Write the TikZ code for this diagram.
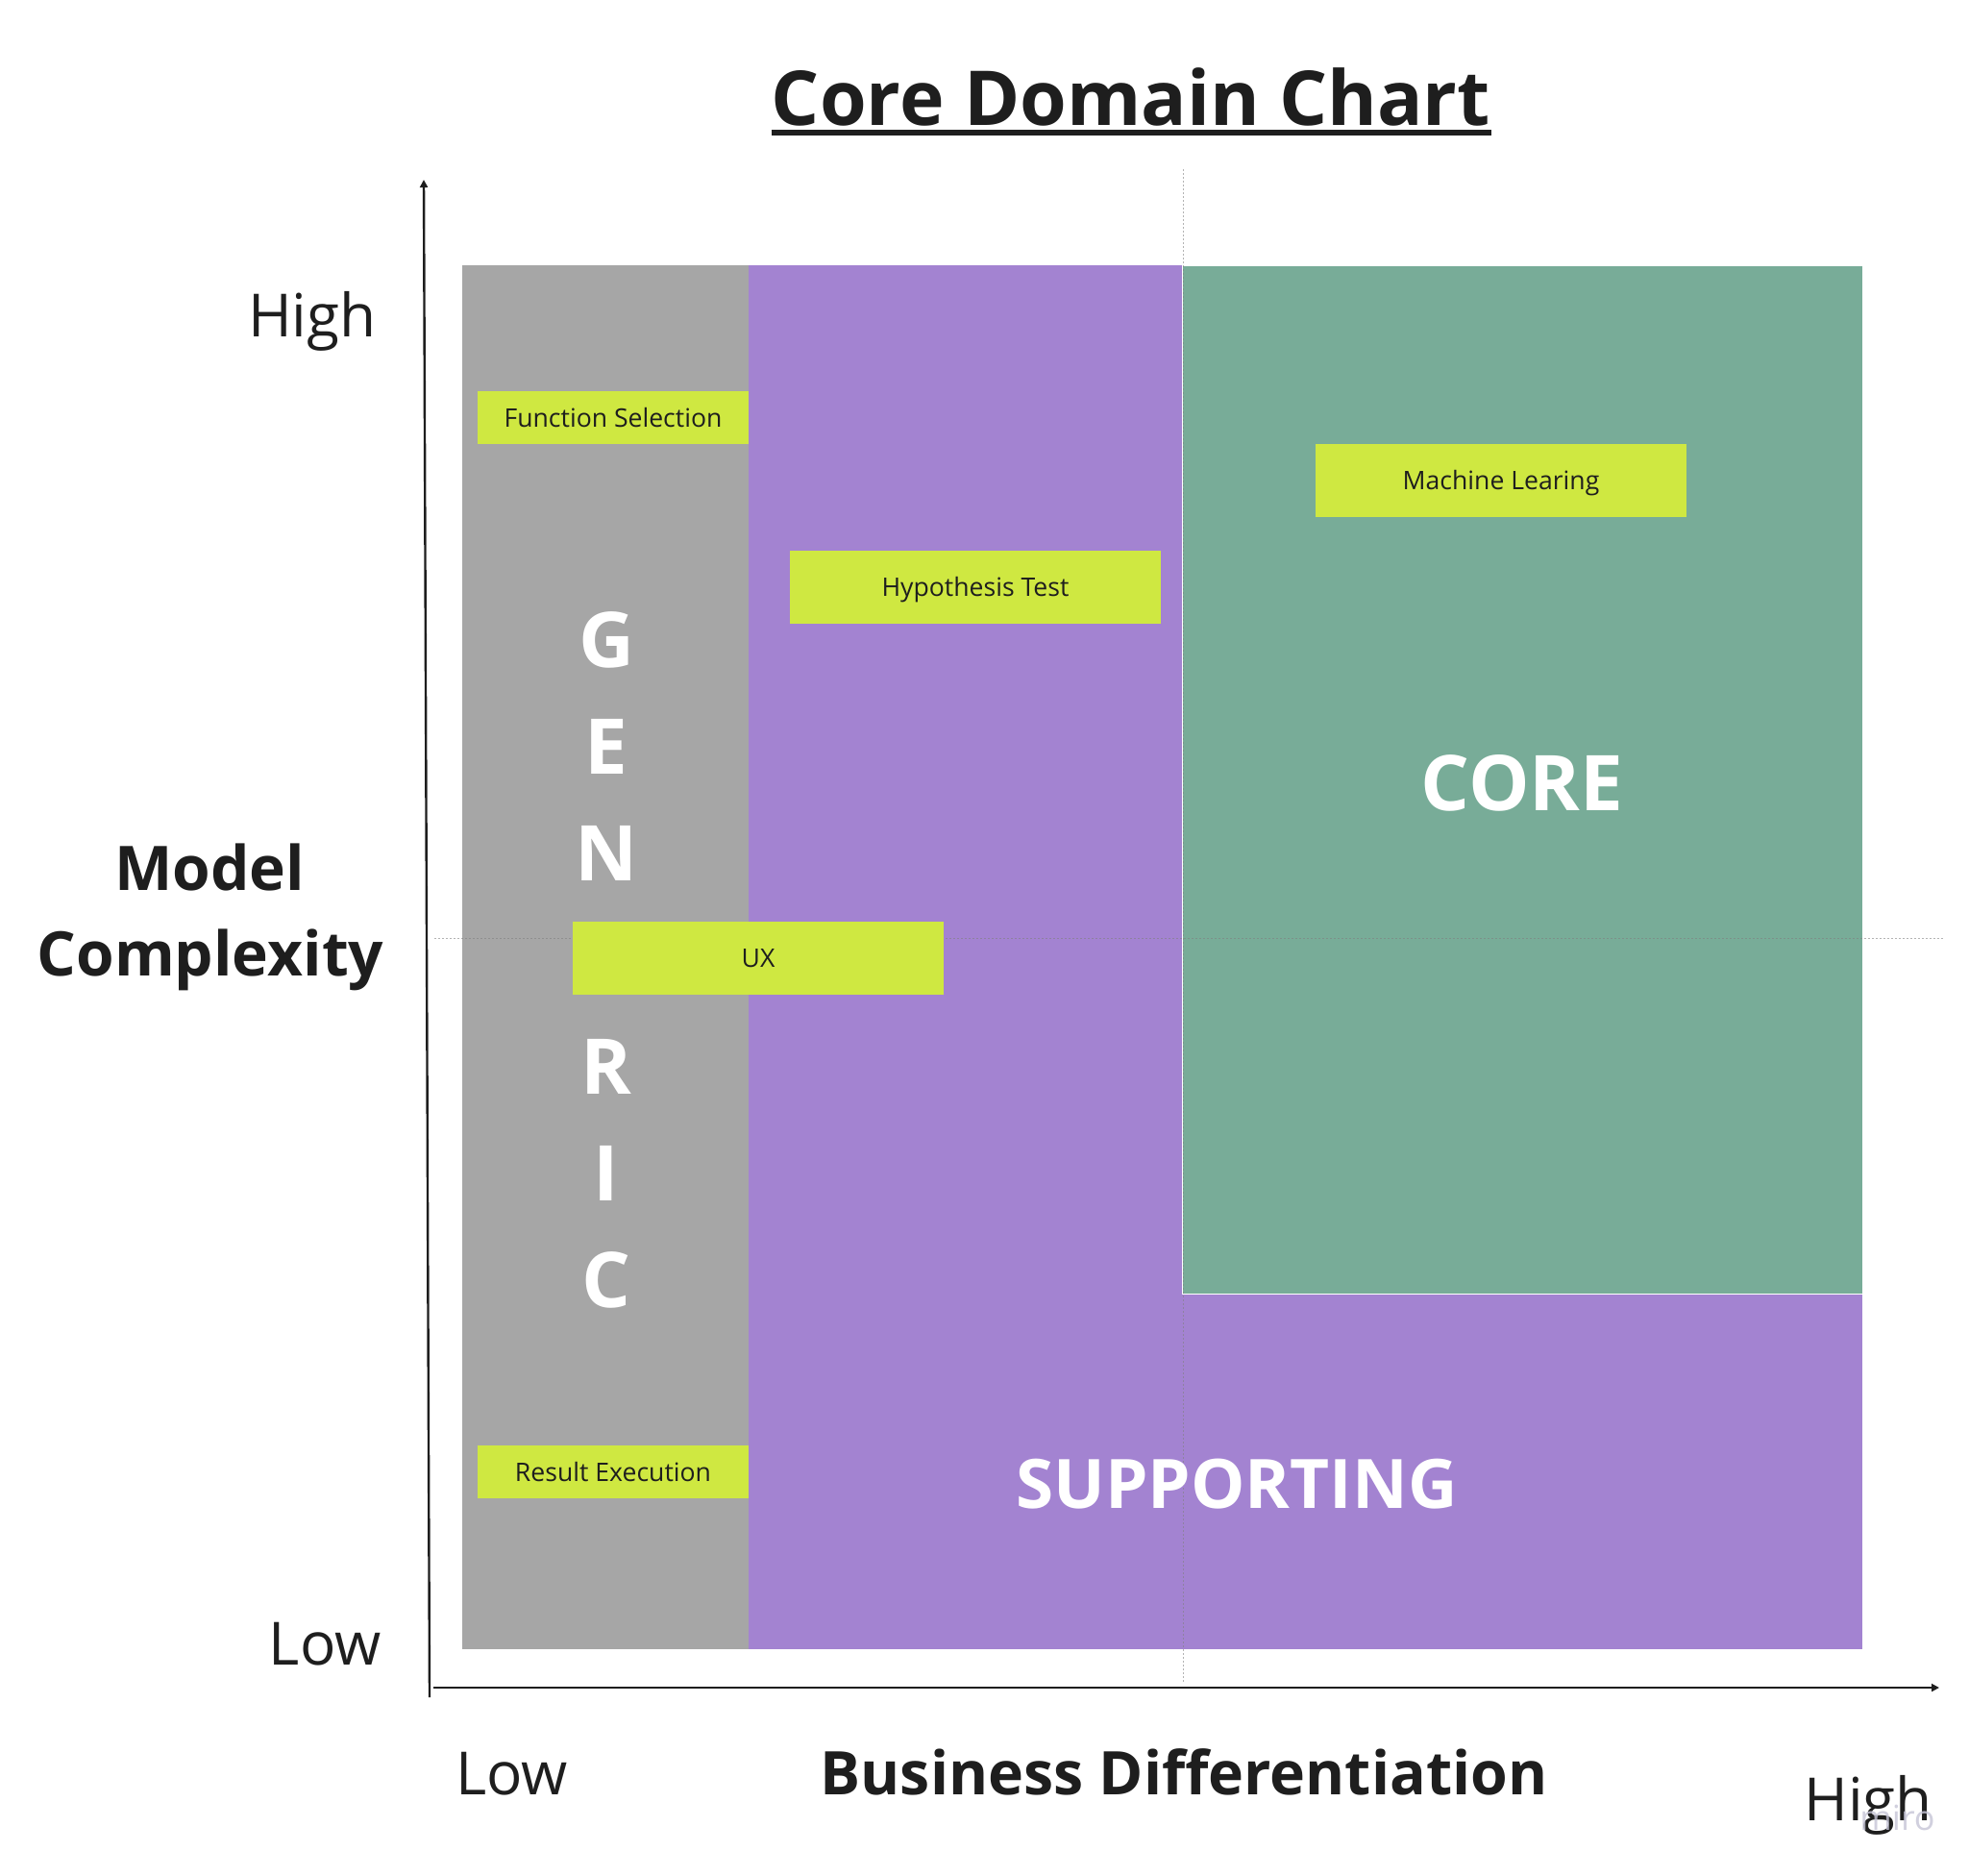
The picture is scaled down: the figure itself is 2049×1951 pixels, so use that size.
\documentclass[tikz,border=0pt]{standalone}
\usepackage{fontspec}
\setmainfont{Open Sans}
\usetikzlibrary{arrows.meta}

\definecolor{genericgray}{HTML}{A6A6A6}
\definecolor{supportpurple}{HTML}{A383D1}
\definecolor{coregreen}{HTML}{78AC98}
\definecolor{taglime}{HTML}{CFE841}
\definecolor{ink}{HTML}{1E1E1E}
\definecolor{mirogray}{HTML}{C5C4D6}

\tikzset{
  tag/.style={fill=taglime, text=ink, inner sep=0pt, text height=9.5pt, text depth=0pt,
    font=\fontsize{13.3pt}{16pt}\selectfont},
  smalltag/.style={tag, minimum width=141pt, minimum height=27.5pt},
  bigtag/.style={tag, minimum width=193pt, minimum height=38pt},
  axislabel/.style={text=ink, inner sep=0pt, font=\fontsize{31pt}{37pt}\selectfont},
  axistitle/.style={text=ink, inner sep=0pt, font=\fontsize{32pt}{38pt}\selectfont\bfseries},
  zone/.style={text=white, inner sep=0pt, font=\fontsize{40pt}{48pt}\selectfont\bfseries},
  guide/.style={gray, opacity=0.6, line width=0.5pt, dash pattern=on 1pt off 1pt},
  axis/.style={ink, line width=1.2pt, -{Triangle[length=4pt,width=4pt]}}
}

\begin{document}
\begin{tikzpicture}[x=0.5pt, y=-0.5pt]
\useasboundingbox (0,0) rectangle (2049,1951);

% zones
\fill[genericgray] (481,276) rectangle (779,1716);
\fill[supportpurple] (779,276) rectangle (1938,1716);
\filldraw[fill=coregreen, draw=white, line width=0.5pt] (1230,276) rectangle (1938,1346);

% guides
\draw[guide] (1231,176) -- (1231,1751);
\draw[guide] (452,976) -- (2024,976);

% axes
\coordinate (ybot) at (447,1766);
\coordinate (ytop) at (441,187);
\coordinate (xleft) at (451,1756);
\coordinate (xright) at (2018,1756);
\draw[axis] (ybot) -- (ytop);
\draw[axis] (xleft) -- (xright);

% zone names
\foreach \l [count=\i from 0] in {G,E,N,E,R,I,C}
  \node[zone, anchor=base] (generic\i) at (631, {694+111*\i}) {\l};
\node[zone, anchor=base] (core) at (1584,843) {CORE};
\node[zone, anchor=base, font=\fontsize{35.5pt}{42pt}\selectfont\bfseries] (supporting) at (1287,1569) {SUPPORTING};

% subdomains
\node[smalltag] (funcsel) at (638,434.5) {Function Selection};
\node[smalltag] (resexec) at (638,1531.5) {Result Execution};
\node[bigtag] (hyptest) at (1015,610.5) {Hypothesis Test};
\node[bigtag] (mlearn) at (1562,500) {Machine Learing};
\node[bigtag] (ux) at (789,997) {UX};

% title
\node[text=ink, inner sep=0pt, anchor=base, font=\fontsize{39.4pt}{47pt}\selectfont\bfseries]
  (title) at (1177,130) {Core Domain Chart};
\draw[ink, line width=3pt] ([yshift=-4pt]title.base west) -- ([yshift=-4pt]title.base east);

% axis labels
\node[axislabel, anchor=base east] (yhigh) at (392,350) {High};
\node[axislabel, anchor=base east] (ylow) at (397,1732) {Low};
\node[axislabel, anchor=base west] (xlow) at (474,1867) {Low};
\node[axislabel, anchor=base west] (xhigh) at (1877,1894) {High};
\node[axistitle, anchor=base] (model) at (218,926) {Model};
\node[axistitle, anchor=base] (complexity) at (219,1015) {Complexity};
\node[axistitle, anchor=base, font=\fontsize{31.3pt}{38pt}\selectfont\bfseries]
  (business) at (1232,1867) {Business Differentiation};
\node[text=mirogray, opacity=0.8, inner sep=0pt, anchor=base west, font=\fontsize{18pt}{22pt}\selectfont]
  (miro) at (1935,1904) {miro};
\end{tikzpicture}
\end{document}
